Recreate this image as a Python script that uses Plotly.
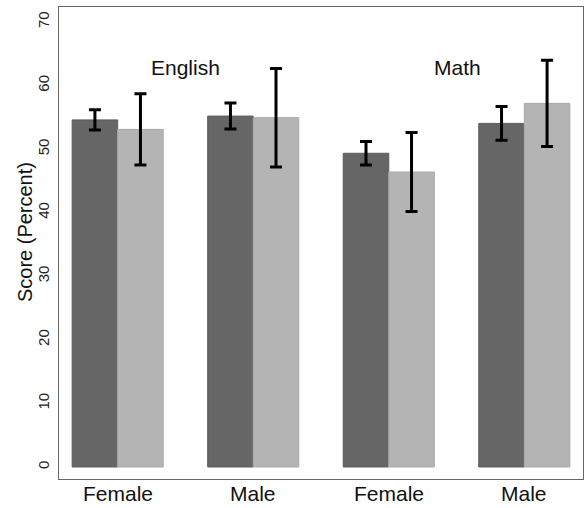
import plotly.graph_objects as go

categories = ["Female", "Male", "Female", "Male"]
x_pos = [0, 1, 2, 3]
dark_values = [54.6, 55.2, 49.35, 54.05]
dark_errors = [1.6, 2.05, 1.85, 2.65]
light_values = [53.1, 54.95, 46.4, 57.2]
light_errors = [5.6, 7.75, 6.2, 6.8]
subject_labels = ["English", "Math"]
subject_x = [0.503, 2.505]
subject_y = [62.9, 62.9]
y_ticks = [0, 10, 20, 30, 40, 50, 60, 70]

FONT = "Liberation Sans, Arial, Helvetica, sans-serif"
BAR_W = 0.336

fig = go.Figure()
fig.add_trace(go.Bar(
    x=x_pos, y=dark_values, width=BAR_W, offset=-BAR_W,
    marker=dict(color="#666666", line=dict(color="#5c5c5c", width=1)),
    error_y=dict(type="data", array=dark_errors, visible=True,
                 color="#000000", thickness=3, width=6),
    showlegend=False,
))
fig.add_trace(go.Bar(
    x=x_pos, y=light_values, width=BAR_W, offset=0,
    marker=dict(color="#b3b4b3", line=dict(color="#a8aaa8", width=1)),
    error_y=dict(type="data", array=light_errors, visible=True,
                 color="#000000", thickness=3, width=6),
    showlegend=False,
))

for lab, xx, yy in zip(subject_labels, subject_x, subject_y):
    fig.add_annotation(x=xx, y=yy, xref="x", yref="y", text=lab, showarrow=False,
                       font=dict(family=FONT, size=21, color="#111111"))

# x category labels below the axis
for lab, xx in zip(categories, x_pos):
    fig.add_annotation(x=xx, y=0, xref="x", yref="paper", text=lab, showarrow=False,
                       yanchor="middle", yshift=-14,
                       font=dict(family=FONT, size=21, color="#111111"))

fig.add_annotation(x=-0.065, y=0.523, xref="paper", yref="paper",
                   xanchor="center", yanchor="middle",
                   text="Score (Percent)", textangle=-90, showarrow=False,
                   font=dict(family=FONT, size=20, color="#111111"))

fig.update_layout(
    width=588, height=508,
    margin=dict(l=59, r=5, t=7, b=29),
    paper_bgcolor="white", plot_bgcolor="white",
    barmode="overlay",
    font=dict(family=FONT, color="#111111"),
)
fig.update_xaxes(
    range=[-0.433, 3.433], tickvals=x_pos, showticklabels=False,
    showgrid=False, zeroline=False, ticks="", automargin=False,
    showline=True, linecolor="#666666", linewidth=1, mirror=True,
)
fig.update_yaxes(
    range=[-1.89, 72.36], tickvals=y_ticks, tickangle=-90,
    tickfont=dict(family=FONT, size=15, color="#222222"),
    showgrid=False, zeroline=False, ticks="", automargin=False,
    ticklabelstandoff=3,
    showline=True, linecolor="#666666", linewidth=1, mirror=True,
)

fig.write_html("out.html", config={"displayModeBar": False},
               post_script="document.body.style.margin='0';")
